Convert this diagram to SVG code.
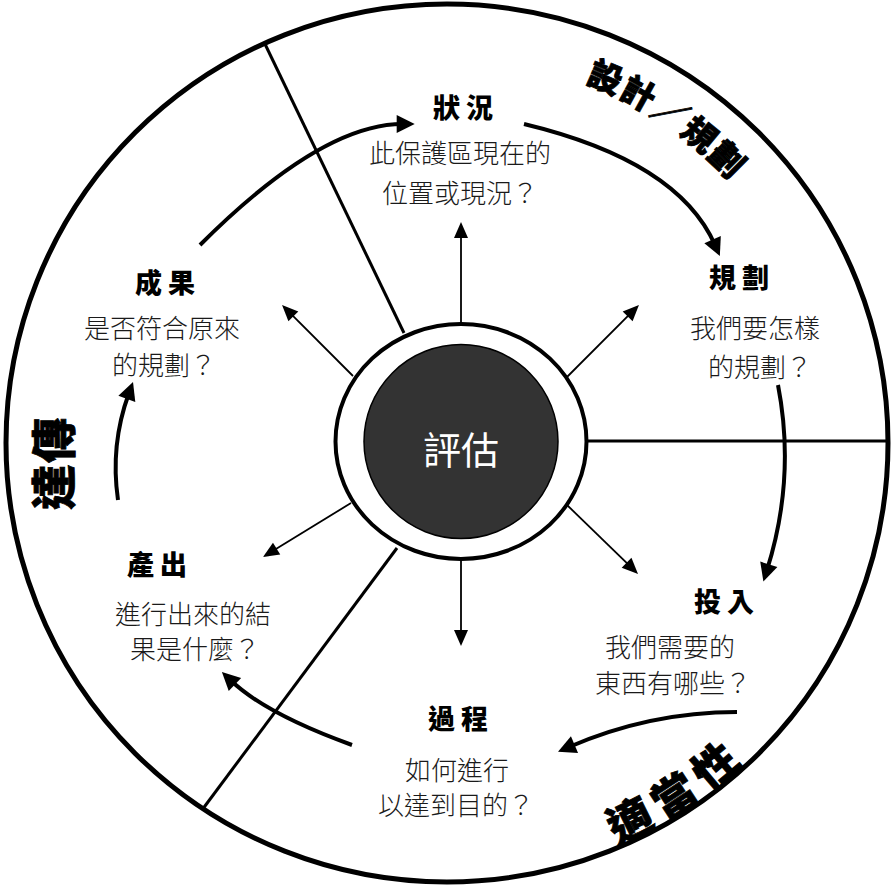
<svg xmlns="http://www.w3.org/2000/svg" width="894" height="886" viewBox="0 0 894 886">
<defs>
<style>
.t{font-family:"Noto Sans CJK TC","Noto Sans CJK SC",sans-serif;font-weight:900;font-size:27px;letter-spacing:6px;text-anchor:middle;fill:#000}
.b{font-family:"Noto Sans CJK TC","Noto Sans CJK SC",sans-serif;font-weight:300;font-size:26px;text-anchor:middle;fill:#1a1a1a}
.arc{font-family:"Noto Sans CJK TC","Noto Sans CJK SC",sans-serif;font-weight:900;fill:#000;stroke:#000;stroke-width:0.8}
.div{stroke:#000;stroke-width:3;fill:none}
.ca{stroke:#000;stroke-width:4;fill:none;marker-end:url(#hb)}
.ra{stroke:#000;stroke-width:1.8;fill:none;marker-end:url(#hs)}
</style>
<marker id="hb" markerUnits="userSpaceOnUse" markerWidth="18" markerHeight="18" refX="6" refY="9" orient="auto" overflow="visible"><path d="M0,0 L18,9 L0,18 z" fill="#000"/></marker>
<marker id="hs" markerUnits="userSpaceOnUse" markerWidth="16" markerHeight="14" refX="8" refY="7" orient="auto" overflow="visible"><path d="M0,0 L16,7 L0,14 z" fill="#000"/></marker>
<path id="arcTR" d="M447,57 A386,386 0 0 1 833,443"/>
<path id="arcBR" d="M447,879 A436,436 0 0 0 883,443"/>
</defs>
<rect width="894" height="886" fill="#fff"/>
<g id="outer"><ellipse cx="447" cy="443" rx="441" ry="439" fill="none" stroke="#000" stroke-width="5"/></g>
<g id="connectors">
<line class="div" x1="264.5" y1="43" x2="404" y2="333"/>
<line class="div" x1="588" y1="441" x2="888" y2="441"/>
<line class="div" x1="397" y1="548" x2="203.5" y2="808"/>
<path class="ra" d="M461,323 L461,230"/>
<path class="ra" d="M566,378 L633.3,310.7"/>
<path class="ra" d="M567,505 L632.3,568.4"/>
<path class="ra" d="M461,560 L461,638"/>
<path class="ra" d="M351,503 L269.8,552.8"/>
<path class="ra" d="M353,376 L287.7,310.7"/>
<path class="ca" d="M200,245 Q321,124 402.7,124"/>
<path class="ca" d="M524,124 Q678,161 715,245"/>
<path class="ca" d="M778,385 Q796,478 767,570"/>
<path class="ca" d="M737,712 Q650,712 569,747"/>
<path class="ca" d="M352,745 Q266,714 230.6,680.3"/>
<path class="ca" d="M118,500 Q110,445 128.9,393.3"/>
</g>
<g id="center">
<ellipse cx="461" cy="441.5" rx="125.5" ry="117.5" fill="#fff" stroke="#000" stroke-width="4"/>
<circle cx="461" cy="441.5" r="97" fill="#333" stroke="#000" stroke-width="1.5"/>
<text x="461" y="464" style="font-family:'Noto Sans CJK TC','Noto Sans CJK SC',sans-serif;font-size:38px;fill:#fff;text-anchor:middle">評估</text>
</g>
<g id="n-status">
<text class="t" x="466" y="118">狀況</text>
<text class="b" x="460" y="163">此保護區現在的</text>
<text class="b" x="460" y="203">位置或現況？</text>
</g>
<g id="n-plan">
<text class="t" x="742" y="288">規劃</text>
<text class="b" x="755" y="338">我們要怎樣</text>
<text class="b" x="760" y="377">的規劃？</text>
</g>
<g id="n-input">
<text class="t" x="727" y="612">投入</text>
<text class="b" x="670" y="657">我們需要的</text>
<text class="b" x="673" y="693">東西有哪些？</text>
</g>
<g id="n-process">
<text class="t" x="461" y="729">過程</text>
<text class="b" x="457" y="780">如何進行</text>
<text class="b" x="456" y="815">以達到目的？</text>
</g>
<g id="n-output">
<text class="t" x="160" y="575">產出</text>
<text class="b" x="193" y="624">進行出來的結</text>
<text class="b" x="195" y="659">果是什麼？</text>
</g>
<g id="n-outcome">
<text class="t" x="168" y="293">成果</text>
<text class="b" x="162" y="338">是否符合原來</text>
<text class="b" x="164" y="375">的規劃？</text>
</g>
<g id="sector-labels">
<text class="arc" style="font-size:34px;letter-spacing:1.7px"><textPath href="#arcTR" startOffset="230" text-anchor="middle">設計／規劃</textPath></text>
<text class="arc" style="font-size:44px;letter-spacing:9px"><textPath href="#arcBR" startOffset="254" text-anchor="middle">適當性</textPath></text>
<text class="arc" style="font-size:45px" x="71 71" y="463 510" rotate="-90">傳達</text>
</g>
</svg>
